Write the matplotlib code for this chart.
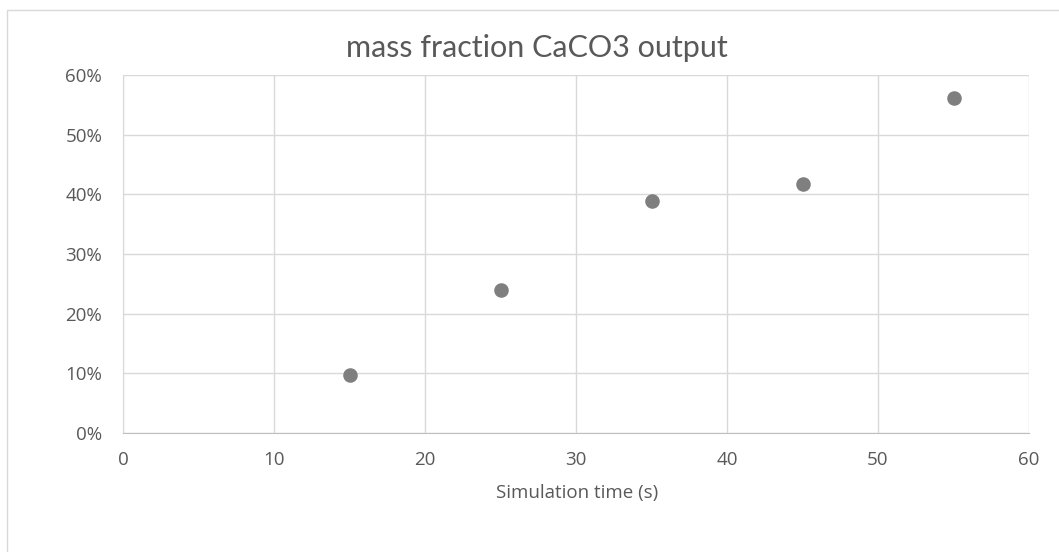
import matplotlib.pyplot as plt
from matplotlib.patches import Rectangle
from matplotlib.ticker import FuncFormatter

# data
sim_time = [15, 25, 35, 45, 55]
mass_frac = [0.098, 0.239, 0.388, 0.418, 0.561]

x_ticks = [0, 10, 20, 30, 40, 50, 60]
y_ticks = [0.0, 0.1, 0.2, 0.3, 0.4, 0.5, 0.6]

W, H = 1059, 552
fig = plt.figure(figsize=(W / 100, H / 100), dpi=100)
plt.rcParams["font.family"] = ["Open Sans", "DejaVu Sans"]

# chart border like the spreadsheet frame
fig.patches.append(Rectangle((7 / W, -0.1), 1.2, 1 - 10 / H + 0.1,
                             transform=fig.transFigure, fill=False,
                             edgecolor="#d9d9d9", linewidth=1))

ax = fig.add_axes([123 / W, 1 - 433 / H, (1029 - 123) / W, (433 - 75) / H])
ax.scatter(sim_time, mass_frac, s=110, color="#7f7f7f", zorder=3, linewidths=0)

ax.set_xlim(0, 60)
ax.set_ylim(0, 0.6)
ax.set_xticks(x_ticks)
ax.set_yticks(y_ticks)
ax.yaxis.set_major_formatter(FuncFormatter(lambda v, p: f"{v*100:.0f}%"))
ax.grid(True, color="#d9d9d9", linewidth=1)
ax.set_axisbelow(True)

for side in ["top", "right"]:
    ax.spines[side].set_visible(False)
ax.spines["left"].set_color("#d9d9d9")
ax.spines["bottom"].set_color("#bfbfbf")
ax.tick_params(length=0, labelsize=13.5, colors="#595959")
ax.tick_params(axis="y", pad=15)
ax.tick_params(axis="x", pad=13)

fig.text(577 / W, 1 - 493 / H, "Simulation time (s)", ha="center",
         va="center", fontsize=13.5, color="#595959")
fig.text(537 / W, 1 - 48 / H, "mass fraction CaCO3 output", ha="center",
         va="center", fontsize=22, color="#595959", family=["Lato", "DejaVu Sans"])

fig.savefig("out.png", dpi=100)
